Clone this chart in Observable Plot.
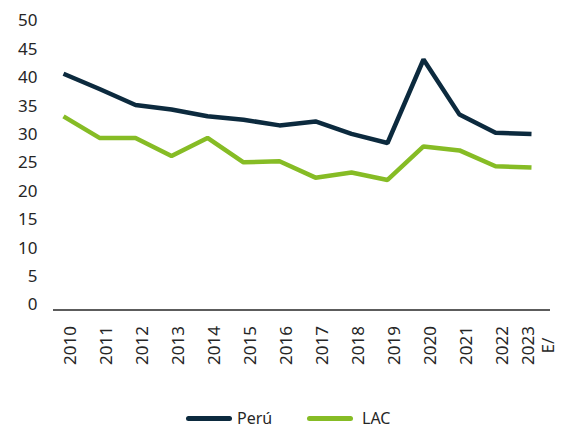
<!DOCTYPE html>
<html>
<head>
<meta charset="utf-8">
<script src="https://cdn.jsdelivr.net/npm/d3@7"></script>
<script src="https://cdn.jsdelivr.net/npm/@observablehq/plot@0.6"></script>
<style>
  html, body { margin: 0; padding: 0; background: #fff; }
  #wrap { width: 563px; height: 432px; position: relative; font-family: "Noto Sans", sans-serif; }
  #legend { position: absolute; left: 0; top: 407px; width: 563px; height: 22px; }
  .item { position: absolute; top: 0; display: flex; align-items: center; font-size: 16px; color: #262626; height: 22px; }
  .sw { width: 46px; height: 5px; border-radius: 3px; margin-right: 5px; }
</style>
</head>
<body>
<div id="wrap">
  <div id="chart"></div>
  <div id="legend"></div>
</div>
<script>
const years = ["2010","2011","2012","2013","2014","2015","2016","2017","2018","2019","2020","2021","2022","2023"];
const yearLabels = ["2010","2011","2012","2013","2014","2015","2016","2017","2018","2019","2020","2021","2022","2023\nE/"];
const peru = [41.6, 38.9, 36.1, 35.3, 34.1, 33.5, 32.5, 33.2, 31.0, 29.4, 44.1, 34.4, 31.2, 31.0];
const lac  = [34.1, 30.3, 30.3, 27.1, 30.3, 26.0, 26.2, 23.3, 24.2, 22.9, 28.8, 28.1, 25.3, 25.1];
const seriesNames = ["Perú", "LAC"];
const seriesColors = ["#0c2a3e", "#86bc25"];
const yTicks = [0,5,10,15,20,25,30,35,40,45,50];

const rows = [];
years.forEach((y, i) => {
  rows.push({year: y, value: peru[i], serie: seriesNames[0]});
  rows.push({year: y, value: lac[i], serie: seriesNames[1]});
});
const labelOf = new Map(years.map((y, i) => [y, yearLabels[i]]));

const chart = Plot.plot({
  width: 563,
  height: 400,
  marginLeft: 44,
  marginRight: 13,
  marginTop: 25.5,
  marginBottom: 90.5,
  style: {fontFamily: "Noto Sans, sans-serif", fontSize: "17px", color: "#262626", background: "#fff"},
  x: {type: "band", domain: years, padding: 0, axis: null},
  y: {domain: [0, 50], axis: null},
  color: {domain: seriesNames, range: seriesColors},
  marks: [
    Plot.axisY({ticks: yTicks, tickSize: 0, tickPadding: 7, dy: -5, label: null, fontSize: 17, fill: "#262626"}),
    Plot.text(years, {x: d => d, text: d => labelOf.get(d), frameAnchor: "bottom", rotate: -90, textAnchor: "middle", lineAnchor: "middle", dx: 6, dy: 35.5, fontSize: 17, fill: "#262626", lineHeight: 1.15}),
    Plot.ruleY([0], {stroke: "#262626", strokeWidth: 1.6, insetLeft: 9}),
    Plot.line(rows, {x: "year", y: "value", z: "serie", stroke: "serie", strokeWidth: 4.5, strokeLinejoin: "miter", strokeLinecap: "butt"})
  ]
});
document.getElementById("chart").appendChild(chart);

const legend = document.getElementById("legend");
const lefts = [186, 307];
seriesNames.forEach((n, i) => {
  const it = document.createElement("div");
  it.className = "item";
  it.style.left = lefts[i] + "px";
  it.innerHTML = `<span class="sw" style="background:${seriesColors[i]}"></span><span>${n}</span>`;
  if (i === 1) it.querySelector(".sw").style.marginRight = "9px";
  legend.appendChild(it);
});
</script>
</body>
</html>
